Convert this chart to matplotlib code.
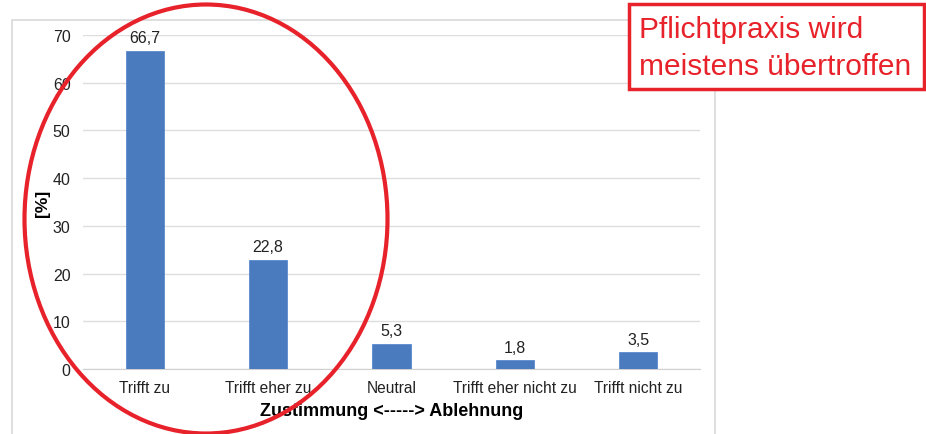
import matplotlib
matplotlib.use("Agg")
import matplotlib.pyplot as plt
from matplotlib.patches import Ellipse, Rectangle

categories = ["Trifft zu", "Trifft eher zu", "Neutral", "Trifft eher nicht zu", "Trifft nicht zu"]
values = [66.7, 22.8, 5.3, 1.8, 3.5]
value_labels = ["66,7", "22,8", "5,3", "1,8", "3,5"]
yticks = [0, 10, 20, 30, 40, 50, 60, 70]

W, H = 926, 435
plt.rcParams['font.family'] = ['Liberation Sans', 'DejaVu Sans']
fig = plt.figure(figsize=(W / 100, H / 100), dpi=100)
fig.patch.set_facecolor("white")

def fx(px):
    return px / W

def fy(py):
    return 1 - py / H

# chart border
fig.patches.append(Rectangle((fx(12), fy(440)), fx(715) - fx(12), fy(21) - fy(440),
                             transform=fig.transFigure, fill=False, edgecolor="#d9d9d9", lw=1.2, zorder=0))

ax = fig.add_axes([fx(83), fy(370), fx(700) - fx(83), fy(36) - fy(370)])
x = list(range(len(categories)))
ax.bar(x, values, width=0.31, color="#4a7bbf", edgecolor="#5b8ad0", linewidth=0.6, zorder=3)
for xi, v, lab in zip(x, values, value_labels):
    ax.text(xi, v + 1.2, lab, ha="center", va="bottom", fontsize=11.5, color="#222222")
ax.set_xlim(-0.5, len(categories) - 0.5)
ax.set_ylim(0, 70)
ax.set_yticks(yticks)
ax.set_xticks(x)
ax.set_xticklabels(categories, fontsize=11.2, color="#222222")
ax.tick_params(axis="y", length=0, labelsize=11.5, colors="#222222", pad=9)
ax.tick_params(axis="x", length=0, pad=8, colors="#222222")
ax.grid(axis="y", color="#dedede", lw=1, zorder=0)
for s in ["top", "right", "left"]:
    ax.spines[s].set_visible(False)
ax.spines["bottom"].set_color("#d0d0d0")
ax.set_xlabel("Zustimmung <-----> Ablehnung", fontsize=13, fontweight="bold", labelpad=5)
ax.set_ylabel("[%]", fontsize=12.5, fontweight="bold", labelpad=2)

# red ellipse
fig.patches.append(Ellipse((fx(206), fy(220)), fx(388) - fx(25), fy(5) - fy(434),
                           transform=fig.transFigure, fill=False, edgecolor="#e8222a", lw=3, zorder=10))

# red annotation box
fig.patches.append(Rectangle((fx(629), fy(90)), fx(924) - fx(629), fy(5) - fy(90),
                             transform=fig.transFigure, fill=True, facecolor="white",
                             edgecolor="#e8222a", lw=2.5, zorder=10))
fig.text(fx(639), fy(30), "Pflichtpraxis wird", fontsize=21.5, color="#e8222a", va="center", ha="left", zorder=11)
fig.text(fx(639), fy(67), "meistens übertroffen", fontsize=21.5, color="#e8222a", va="center", ha="left", zorder=11)

fig.savefig("out.png", dpi=100)
